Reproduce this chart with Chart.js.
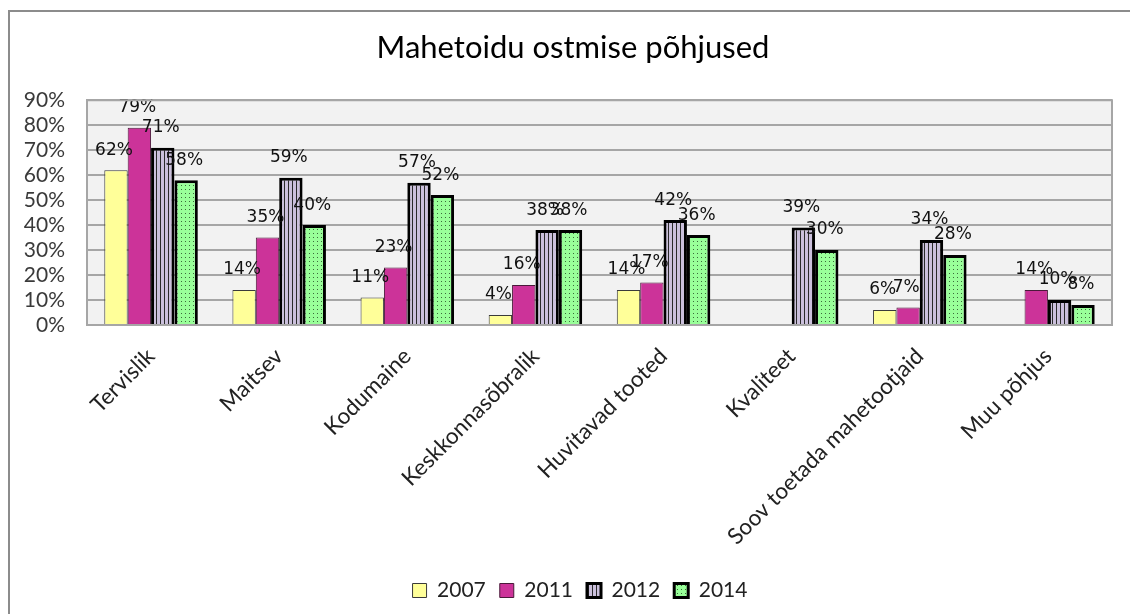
<!DOCTYPE html>
<html>
<head>
<meta charset="utf-8">
<script src="https://cdn.jsdelivr.net/npm/chart.js@4/dist/chart.umd.min.js"></script>
<style>
  html, body { margin: 0; padding: 0; background: #fff; }
  #wrap { width: 1130px; height: 614px; }
</style>
</head>
<body>
<div id="wrap"><canvas id="chart" width="1130" height="614"></canvas></div>
<script>
// andmed
const categories = ['Tervislik', 'Maitsev', 'Kodumaine', 'Keskkonnasõbralik', 'Huvitavad tooted', 'Kvaliteet', 'Soov toetada mahetootjaid', 'Muu põhjus'];
const years = ['2007', '2011', '2012', '2014'];
const values2007 = [62, 14, 11, 4, 14, null, 6, null];
const values2011 = [79, 35, 23, 16, 17, null, 7, 14];
const values2012 = [71, 59, 57, 38, 42, 39, 34, 10];
const values2014 = [58, 40, 52, 38, 36, 30, 28, 8];
const yTicks = [0, 10, 20, 30, 40, 50, 60, 70, 80, 90];

// mustrid (triibud ja täpid)
function makePattern(size, base, drawFn) {
  const c = document.createElement('canvas');
  c.width = size; c.height = size;
  const g = c.getContext('2d');
  g.fillStyle = base;
  g.fillRect(0, 0, size, size);
  drawFn(g);
  return document.getElementById('chart').getContext('2d').createPattern(c, 'repeat');
}
const stripes = makePattern(4, '#cbc0dc', g => { g.fillStyle = '#2a2a2a'; g.fillRect(0, 0, 1, 4); });
const dots = makePattern(8, '#99ff99', g => {
  g.fillStyle = '#3a6a3a';
  g.fillRect(1, 1, 1, 1);
  g.fillRect(5, 5, 1, 1);
  g.fillRect(5, 1, 1, 1);
  g.fillRect(1, 5, 1, 1);
});

// raam ja joonise taust
const framePlugin = {
  id: 'frame',
  afterLayout(chart) {
    // pealkiri ja legend on originaalis veidi paremal
    chart.titleBlock.left += 12;
    chart.titleBlock.right += 12;
    chart.legend.left += 19;
    chart.legend.right += 19;
  },
  beforeDraw(chart) {
    const ctx = chart.ctx;
    const a = chart.chartArea;
    ctx.save();
    ctx.fillStyle = '#f2f2f2';
    ctx.fillRect(a.left, a.top, a.right - a.left, a.bottom - a.top);
    ctx.strokeStyle = '#8c8c8c';
    ctx.lineWidth = 2;
    ctx.strokeRect(9, 11, 1130, 620);
    ctx.restore();
  },
  afterDraw(chart) {
    const ctx = chart.ctx;
    const a = chart.chartArea;
    ctx.save();
    ctx.strokeStyle = '#a6a6a6';
    ctx.lineWidth = 2;
    ctx.beginPath();
    ctx.moveTo(a.left, a.top);
    ctx.lineTo(a.right, a.top);
    ctx.lineTo(a.right, a.bottom);
    ctx.stroke();
    ctx.restore();
  }
};

// väärtuste sildid tulpade kohal
const labelPlugin = {
  id: 'barLabels',
  afterDatasetsDraw(chart) {
    const ctx = chart.ctx;
    ctx.save();
    ctx.font = '17px "DejaVu Sans"';
    ctx.fillStyle = '#111';
    ctx.textAlign = 'center';
    ctx.textBaseline = 'middle';
    chart.data.datasets.forEach((ds, di) => {
      const meta = chart.getDatasetMeta(di);
      meta.data.forEach((bar, i) => {
        const v = ds.data[i];
        if (v === null) return;
        ctx.fillText(v + '%', bar.x - 2, bar.y - 20);
      });
    });
    ctx.restore();
  }
};

const ctx = document.getElementById('chart').getContext('2d');
new Chart(ctx, {
  type: 'bar',
  data: {
    labels: categories,
    datasets: [
      { label: years[0], data: values2007, backgroundColor: '#ffff99', borderColor: '#3a3a3a', borderWidth: 1 },
      { label: years[1], data: values2011, backgroundColor: '#cc3399', borderColor: '#4a1a3a', borderWidth: 1 },
      { label: years[2], data: values2012, backgroundColor: stripes, borderColor: '#000', borderWidth: 3 },
      { label: years[3], data: values2014, backgroundColor: dots, borderColor: '#000', borderWidth: 3 }
    ]
  },
  options: {
    responsive: false,
    animation: false,
    layout: { padding: { left: 10, right: 18, top: 10, bottom: 3 } },
    datasets: { bar: { categoryPercentage: 0.73, barPercentage: 1 } },
    plugins: {
      title: {
        display: true,
        text: 'Mahetoidu ostmise põhjused',
        color: '#000',
        font: { family: 'Lato', size: 31, weight: 'normal' },
        padding: { top: 19, bottom: 34 }
      },
      legend: {
        position: 'bottom',
        labels: {
          color: '#222',
          font: { family: 'Lato', size: 21 },
          boxWidth: 14,
          boxHeight: 14,
          padding: 14
        }
      },
      tooltip: { enabled: false }
    },
    scales: {
      x: {
        grid: { display: false },
        border: { color: '#a6a6a6', width: 2 },
        ticks: {
          color: '#222',
          font: { family: 'Lato', size: 22.5 },
          minRotation: 45,
          maxRotation: 45,
          autoSkip: false,
          padding: 10
        },
        afterFit: s => { s.height = 241; }
      },
      y: {
        min: 0,
        max: 90,
        grid: { color: '#a6a6a6', lineWidth: 2, drawTicks: false },
        border: { color: '#a6a6a6', width: 2 },
        afterBuildTicks: s => { s.ticks = yTicks.map(v => ({ value: v })); },
        ticks: {
          color: '#3a3a3a',
          font: { family: 'Lato', size: 21 },
          padding: 22,
          autoSkip: false,
          callback: v => v + '%'
        },
        afterFit: s => { s.width = 77; }
      }
    }
  },
  plugins: [framePlugin, labelPlugin]
});
</script>
</body>
</html>
